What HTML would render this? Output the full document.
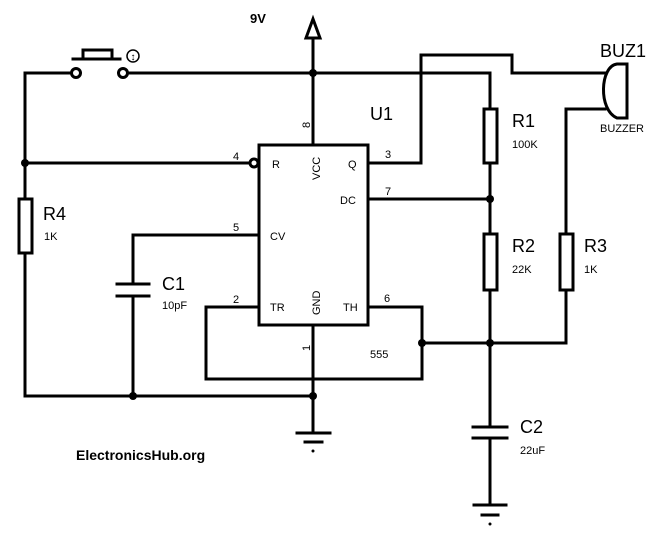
<!DOCTYPE html>
<html><head><meta charset="utf-8"><style>
body{margin:0;background:#fff}
svg{display:block}
text{font-family:"Liberation Sans",sans-serif;fill:#000}
</style></head><body>
<svg width="669" height="538" viewBox="0 0 669 538">
<g stroke="#000" stroke-width="3" fill="none" stroke-linecap="square">
<!-- top wire -->
<polyline points="71,73 25,73 25,396 313,396"/>
<line x1="128" y1="73" x2="490" y2="73"/>
<line x1="490" y1="73" x2="490" y2="109"/>
<!-- pushbutton -->
<circle cx="76" cy="73" r="4.5" fill="#fff"/>
<circle cx="123" cy="73" r="4.5" fill="#fff"/>
<line x1="73" y1="59" x2="120" y2="59"/>
<rect x="83" y="50" width="29" height="9"/>
<!-- 9V -->
<line x1="313" y1="38" x2="313" y2="145"/>
<polygon points="306,38 320,38 313,19"/>
<!-- 555 box -->
<rect x="259" y="145" width="109" height="180"/>
<line x1="25" y1="163" x2="250" y2="163"/>
<circle cx="254" cy="163" r="4" fill="#fff"/>
<!-- R4 -->
<rect x="19" y="199" width="13" height="54" fill="#fff"/>
<!-- CV / C1 -->
<polyline points="259,235 133,235 133,284"/>
<line x1="133" y1="296" x2="133" y2="396"/>
<line x1="117" y1="284" x2="149" y2="284"/>
<line x1="117" y1="296" x2="149" y2="296"/>
<!-- TR/TH loop -->
<polyline points="259,307 206,307 206,379 422,379 422,307 368,307"/>
<line x1="313" y1="325" x2="313" y2="433"/>
<line x1="297" y1="433" x2="330" y2="433"/>
<line x1="305" y1="442" x2="322" y2="442"/>
<!-- Q to buzzer -->
<polyline points="368,163 421,163 421,55 512,55 512,73 605,73"/>
<!-- DC -->
<line x1="368" y1="199" x2="490" y2="199"/>
<!-- R1 R2 column -->
<rect x="484" y="109" width="13" height="54" fill="#fff"/>
<line x1="490" y1="163" x2="490" y2="234"/>
<rect x="484" y="234" width="13" height="56" fill="#fff"/>
<line x1="490" y1="290" x2="490" y2="427"/>
<line x1="422" y1="343" x2="566" y2="343"/>
<line x1="566" y1="343" x2="566" y2="290"/>
<rect x="560" y="234" width="13" height="56" fill="#fff"/>
<polyline points="566,234 566,109 605,109"/>
<line x1="490" y1="438" x2="490" y2="505"/>
<line x1="473" y1="427" x2="507" y2="427"/>
<line x1="473" y1="438" x2="507" y2="438"/>
<line x1="474" y1="505" x2="506" y2="505"/>
<line x1="482" y1="515" x2="498" y2="515"/>
<!-- buzzer -->
<path d="M627,64 L617,64 C600,66 598,110 617,118 L627,118 Z" fill="#fff"/>
</g>
<g fill="#000">
<circle cx="313" cy="73" r="4"/>
<circle cx="25" cy="163" r="4"/>
<circle cx="490" cy="199" r="4"/>
<circle cx="422" cy="343" r="4"/>
<circle cx="490" cy="343" r="4"/>
<circle cx="133" cy="396" r="4"/>
<circle cx="313" cy="396" r="4"/>
<circle cx="313" cy="451" r="1.5"/>
<circle cx="490" cy="524" r="1.5"/>
</g>
<circle cx="133" cy="56" r="6" fill="none" stroke="#000" stroke-width="1.5"/>
<text x="133" y="60" font-size="10" text-anchor="middle">↕</text>
<text x="250" y="23" font-size="13" font-weight="bold">9V</text>
<text x="370" y="120" font-size="18">U1</text>
<text x="512" y="127" font-size="18">R1</text>
<text x="512" y="148" font-size="11">100K</text>
<text x="512" y="252" font-size="18">R2</text>
<text x="512" y="273" font-size="11">22K</text>
<text x="584" y="252" font-size="18">R3</text>
<text x="584" y="273" font-size="11">1K</text>
<text x="43" y="220" font-size="18">R4</text>
<text x="44" y="240" font-size="11">1K</text>
<text x="162" y="290" font-size="18">C1</text>
<text x="162" y="309" font-size="11">10pF</text>
<text x="520" y="433" font-size="18">C2</text>
<text x="520" y="454" font-size="11">22uF</text>
<text x="600" y="57" font-size="18">BUZ1</text>
<text x="600" y="132" font-size="11">BUZZER</text>
<text x="370" y="358" font-size="11">555</text>
<text x="272" y="168" font-size="11">R</text>
<text x="270" y="240" font-size="11">CV</text>
<text x="270" y="311" font-size="11">TR</text>
<text x="343" y="311" font-size="11">TH</text>
<text x="348" y="168" font-size="11">Q</text>
<text x="340" y="204" font-size="11">DC</text>
<text x="233" y="160" font-size="11">4</text>
<text x="233" y="231" font-size="11">5</text>
<text x="233" y="303" font-size="11">2</text>
<text x="385" y="158" font-size="11">3</text>
<text x="385" y="195" font-size="11">7</text>
<text x="384" y="302" font-size="11">6</text>
<text transform="translate(320,180) rotate(-90)" font-size="11">VCC</text>
<text transform="translate(320,315) rotate(-90)" font-size="11">GND</text>
<text transform="translate(310,128) rotate(-90)" font-size="11">8</text>
<text transform="translate(310,351) rotate(-90)" font-size="11">1</text>
<text x="76" y="460" font-size="14" font-weight="bold" style="font-family:'Liberation Sans Narrow','Liberation Sans',sans-serif">ElectronicsHub.org</text>
</svg>
</body></html>
